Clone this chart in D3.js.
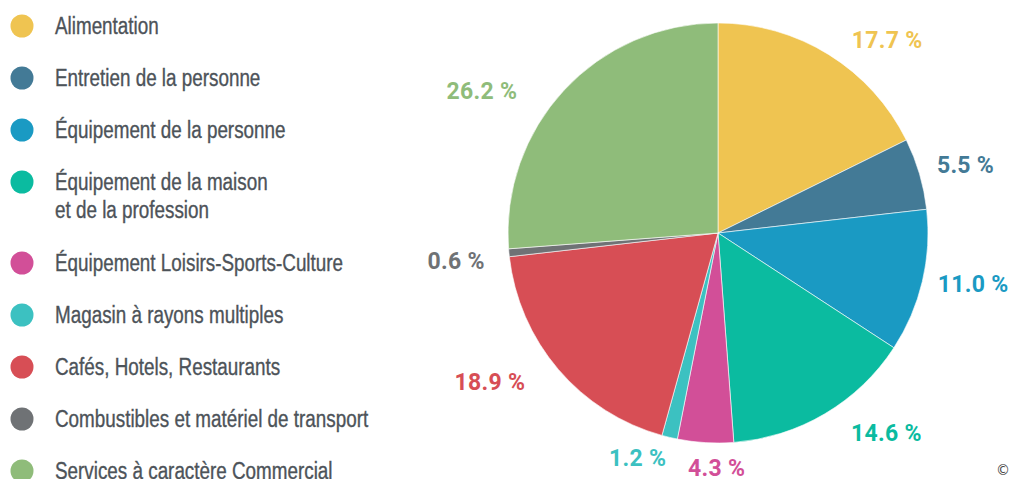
<!DOCTYPE html>
<html>
<head>
<meta charset="utf-8">
<script src="https://cdn.jsdelivr.net/npm/d3@7"></script>
<style>
    body { margin: 0; background: #fff; }
    svg { display: block; }
</style>
</head>
<body>
<svg id="drawing_region"></svg>
<script>
const categories = [
    'Alimentation',
    'Entretien de la personne',
    'Équipement de la personne',
    'Équipement de la maison\net de la profession',
    'Équipement Loisirs-Sports-Culture',
    'Magasin à rayons multiples',
    'Cafés, Hotels, Restaurants',
    'Combustibles et matériel de transport',
    'Services à caractère Commercial'
];
const shares = [17.7, 5.5, 11.0, 14.6, 4.3, 1.2, 18.9, 0.6, 26.2];
const colors = ['#efc451', '#437a96', '#1a9ac3', '#0bbba0', '#d24f98', '#3cc1c1', '#d74e55', '#6f7275', '#8fbc7a'];

const data = categories.map((c, i) => ({ name: c, value: shares[i], color: colors[i] }));

const width = 1010, height = 479;
const cx = 718, cy = 233, radius = 210;

const svg = d3.select('#drawing_region')
    .attr('width', width)
    .attr('height', height);

// legend (condensed look: scale the text horizontally)
const legend = svg.append('g');
let ly = 26;
data.forEach(d => {
    const lines = d.name.split('\n');
    const row = legend.append('g').attr('transform', `translate(0, ${ly})`);
    row.append('circle')
        .attr('cx', 22)
        .attr('cy', 0)
        .attr('r', 11.5)
        .attr('fill', d.color);
    row.append('text')
        .attr('transform', 'translate(55, 0) scale(0.82, 1)')
        .attr('fill', '#4d5359')
        .attr('stroke', '#4d5359')
        .attr('stroke-width', 0.35)
        .attr('font-family', '"Liberation Sans", Arial, sans-serif')
        .attr('font-size', '23px')
        .selectAll('tspan')
        .data(lines)
        .join('tspan')
        .attr('x', 0)
        .attr('dy', (t, i) => i === 0 ? '0.36em' : '28px')
        .text(t => t);
    ly += 52 + (lines.length - 1) * 29;
});

// pie
const pie = d3.pie().sort(null).value(d => d.value);
const arc = d3.arc().innerRadius(0).outerRadius(radius);
const labelArc = d3.arc().innerRadius(258).outerRadius(258);
const arcs = pie(data);

const chart = svg.append('g').attr('transform', `translate(${cx}, ${cy})`);

chart.selectAll('path')
    .data(arcs)
    .join('path')
    .attr('d', arc)
    .attr('fill', d => d.data.color)
    .attr('stroke', '#fff')
    .attr('stroke-width', 0.6);

// small nudges so labels sit where the original placed them
const nudge = [[33, 26], [0, 4], [4, -9], [37, -22], [14, -23], [-21, -26], [-32, -19], [-5, 3], [-47, 33]];

chart.selectAll('text.lbl')
    .data(arcs)
    .join('text')
    .attr('class', 'lbl')
    .attr('transform', (d, i) => {
        const c = labelArc.centroid(d);
        return `translate(${c[0] + nudge[i][0]}, ${c[1] + nudge[i][1]})`;
    })
    .attr('text-anchor', 'middle')
    .attr('dy', '0.36em')
    .attr('fill', d => d.data.color)
    .attr('font-family', 'Roboto, sans-serif')
    .attr('font-weight', 'bold')
    .attr('font-size', '23px')
    .attr('letter-spacing', '0.3px')
    .text(d => d.data.value.toFixed(1) + ' %');

svg.append('text')
    .attr('x', 1003)
    .attr('y', 475)
    .attr('text-anchor', 'middle')
    .attr('fill', '#444')
    .attr('font-family', '"DejaVu Sans", sans-serif')
    .attr('font-size', '14px')
    .text('©');
</script>
</body>
</html>
